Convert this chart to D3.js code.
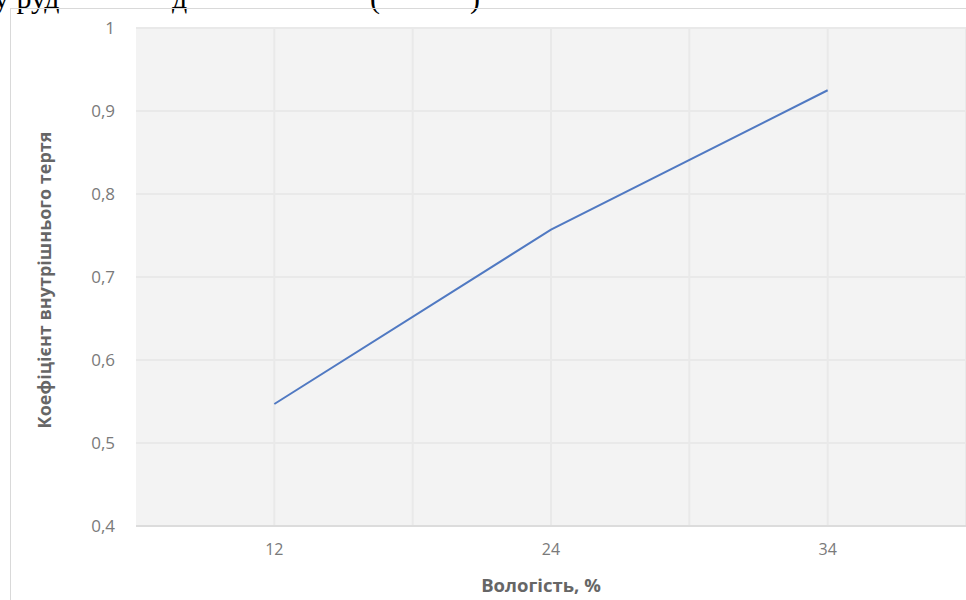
<!DOCTYPE html>
<html lang="uk">
  <head>
    <meta charset="UTF-8" />
    <style>
      body { margin: 0; background: #fff; }
      svg { display: block; }
    </style>
    <title>Коефіцієнт внутрішнього тертя</title>
  </head>
  <body>
    <script src="https://cdn.jsdelivr.net/npm/d3@7/dist/d3.min.js"></script>
    <script>
      const categories = ["12", "24", "34"];
      const values = [0.547, 0.757, 0.925];
      const yTicks = [0.4, 0.5, 0.6, 0.7, 0.8, 0.9, 1];

      const width = 966;
      const height = 600;
      const plot = { left: 136, right: 966, top: 28, bottom: 526 };
      const labelFont = "'Open Sans', sans-serif";

      const svg = d3
        .select("body")
        .append("svg")
        .attr("width", width)
        .attr("height", height);

      // scrap of the document text above the chart (cut off in the source too)
      const scrap = svg
        .append("text")
        .attr("y", 8)
        .style("font-family", "'Liberation Serif', serif")
        .style("font-size", "30px")
        .attr("fill", "#000");
      scrap.append("tspan").attr("x", -6).text("у руд");
      scrap.append("tspan").attr("x", 172).text("д");
      scrap.append("tspan").attr("x", 370).text("(");
      scrap.append("tspan").attr("x", 470).text(")");

      // chart frame
      svg
        .append("rect")
        .attr("x", 10.5)
        .attr("y", 8.5)
        .attr("width", width)
        .attr("height", height)
        .attr("fill", "none")
        .attr("stroke", "#d9d9d9");

      const xScale = d3
        .scaleBand()
        .domain(categories)
        .range([plot.left, plot.right]);
      const yScale = d3
        .scaleLinear()
        .domain([0.4, 1])
        .range([plot.bottom, plot.top]);

      svg
        .append("rect")
        .attr("x", plot.left)
        .attr("y", plot.top)
        .attr("width", plot.right - plot.left)
        .attr("height", plot.bottom - plot.top)
        .attr("fill", "#f3f3f3");

      // vertical grid at category centres and between categories
      const vGrid = [];
      categories.forEach(c => {
        vGrid.push(xScale(c) + xScale.bandwidth() / 2);
        vGrid.push(xScale(c) + xScale.bandwidth());
      });
      svg
        .append("g")
        .selectAll("line")
        .data(vGrid)
        .enter()
        .append("line")
        .attr("x1", d => d)
        .attr("x2", d => d)
        .attr("y1", plot.top)
        .attr("y2", plot.bottom)
        .attr("stroke", "#e9e9e9")
        .attr("stroke-width", 2);

      svg
        .append("g")
        .selectAll("line")
        .data(yTicks.slice(1))
        .enter()
        .append("line")
        .attr("x1", plot.left)
        .attr("x2", plot.right)
        .attr("y1", d => yScale(d))
        .attr("y2", d => yScale(d))
        .attr("stroke", "#e9e9e9")
        .attr("stroke-width", 2);

      // bottom axis line
      svg
        .append("line")
        .attr("x1", plot.left)
        .attr("x2", plot.right)
        .attr("y1", plot.bottom)
        .attr("y2", plot.bottom)
        .attr("stroke", "#dcdcdc")
        .attr("stroke-width", 2);

      const yAxis = d3
        .axisLeft(yScale)
        .tickValues(yTicks)
        .tickSize(0)
        .tickPadding(21)
        .tickFormat(d => String(d).replace(".", ","));
      const gy = svg
        .append("g")
        .attr("transform", "translate(" + plot.left + ",0)")
        .call(yAxis);
      gy.select(".domain").remove();
      gy.selectAll("text")
        .attr("fill", "#7a7a7a")
        .style("font-family", labelFont)
        .style("font-size", "17px");

      const xAxis = d3.axisBottom(xScale).tickSize(0).tickPadding(18);
      const gx = svg
        .append("g")
        .attr("transform", "translate(0," + plot.bottom + ")")
        .call(xAxis);
      gx.select(".domain").remove();
      gx.selectAll("text")
        .attr("fill", "#7a7a7a")
        .style("font-family", labelFont)
        .style("font-size", "16px");

      const line = d3
        .line()
        .x((d, i) => xScale(categories[i]) + xScale.bandwidth() / 2)
        .y(d => yScale(d));
      svg
        .append("path")
        .datum(values)
        .attr("d", line)
        .attr("fill", "none")
        .attr("stroke", "#5079c2")
        .attr("stroke-width", 2);

      svg
        .append("text")
        .attr("x", 541)
        .attr("y", 592)
        .style("text-anchor", "middle")
        .style("font-family", labelFont)
        .style("font-size", "18.5px")
        .style("font-weight", "bold")
        .attr("fill", "#666")
        .text("Вологість, %");

      svg
        .append("text")
        .attr("transform", "translate(51,280) rotate(-90)")
        .style("text-anchor", "middle")
        .style("font-family", labelFont)
        .style("font-size", "18px")
        .style("font-weight", "bold")
        .attr("fill", "#666")
        .text("Коефіцієнт внутрішнього тертя");
    </script>
  </body>
</html>
